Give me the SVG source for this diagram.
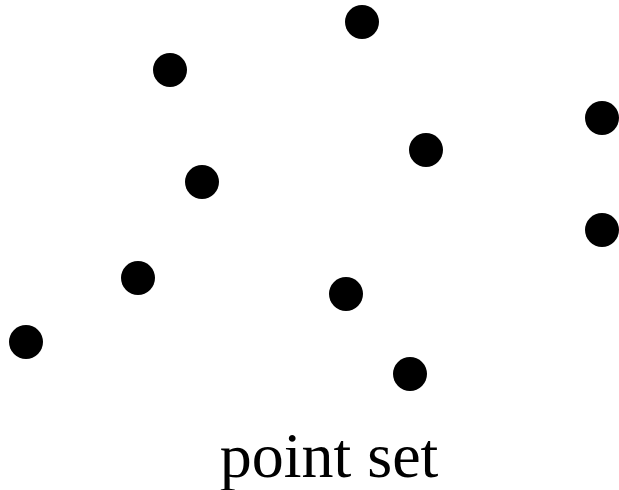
<svg xmlns="http://www.w3.org/2000/svg" width="619" height="490" viewBox="0 0 619 490">
<style>
.pt{fill:#000}
.lbl{font-family:"Liberation Serif","Times New Roman",serif;font-size:64px;fill:#000}
</style>
<rect width="619" height="490" fill="#fff"/>
<g id="points">
<circle id="p1" class="pt" cx="362" cy="22" r="17"/>
<circle id="p2" class="pt" cx="170" cy="70" r="17"/>
<circle id="p3" class="pt" cx="602" cy="118" r="17"/>
<circle id="p4" class="pt" cx="426" cy="150" r="17"/>
<circle id="p5" class="pt" cx="202" cy="182" r="17"/>
<circle id="p6" class="pt" cx="602" cy="230" r="17"/>
<circle id="p7" class="pt" cx="138" cy="278" r="17"/>
<circle id="p8" class="pt" cx="346" cy="294" r="17"/>
<circle id="p9" class="pt" cx="26" cy="342" r="17"/>
<circle id="p10" class="pt" cx="410" cy="374" r="17"/>
</g>
<g id="connectors"></g>
<text class="lbl" x="329" y="477" text-anchor="middle">point set</text>
</svg>
